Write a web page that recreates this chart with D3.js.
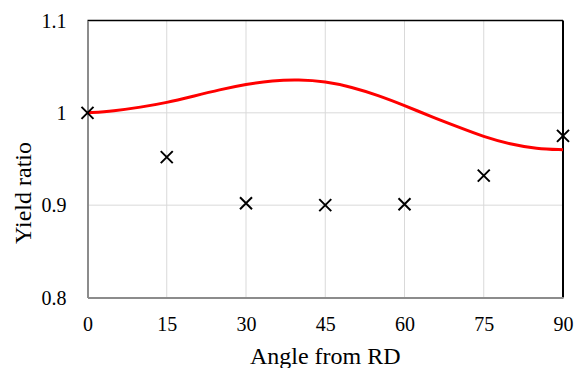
<!DOCTYPE html>
<html>
<head>
<meta charset="utf-8">
<script src="https://cdn.jsdelivr.net/npm/d3@7"></script>
<style>
  html, body { margin: 0; padding: 0; background: #fff; }
  svg { display: block; }
  svg text { fill: #000; }
</style>
</head>
<body>
<div id="chart"></div>
<script>
// Measured yield ratios (cross markers)
const measuredAngles = [0, 15, 30, 45, 60, 75, 90];
const measuredRatios = [1.000, 0.952, 0.902, 0.900, 0.901, 0.932, 0.975];

// Model prediction (red curve)
const modelAngles = [0, 5, 10, 15, 20, 25, 30, 35, 40, 45, 50, 55, 60, 65, 70, 75, 80, 85, 90];
const modelRatios = [1.000, 1.002, 1.006, 1.011, 1.018, 1.025, 1.031, 1.035, 1.036, 1.034,
                     1.028, 1.019, 1.008, 0.996, 0.985, 0.974, 0.966, 0.961, 0.960];

const xTicks = [0, 15, 30, 45, 60, 75, 90];
const yTicks = [0.8, 0.9, 1.0, 1.1];
const yTickLabels = ["0.8", "0.9", "1", "1.1"];

const W = 575, H = 368;
const margin = { left: 87.5, right: 12, top: 20.5, bottom: 70.5 };
const iw = W - margin.left - margin.right;
const ih = H - margin.top - margin.bottom;
const serif = "'Liberation Serif', 'Times New Roman', serif";

const svg = d3.select("#chart").append("svg")
  .attr("width", W).attr("height", H)
  .attr("font-family", serif);

const g = svg.append("g")
  .attr("transform", `translate(${margin.left},${margin.top})`);

const x = d3.scaleLinear().domain([0, 90]).range([0, iw]);
const y = d3.scaleLinear().domain([0.8, 1.1]).range([ih, 0]);

// Grid lines
g.append("g").selectAll("line").data(xTicks.slice(1, -1)).join("line")
  .attr("x1", d => x(d)).attr("x2", d => x(d))
  .attr("y1", 0).attr("y2", ih)
  .attr("stroke", "#d9d9d9").attr("stroke-width", 1);
g.append("g").selectAll("line").data(yTicks.slice(1, -1)).join("line")
  .attr("x1", 0).attr("x2", iw)
  .attr("y1", d => y(d)).attr("y2", d => y(d))
  .attr("stroke", "#d9d9d9").attr("stroke-width", 1);

// Frame: top and right in black, left and bottom axes in gray
g.append("line").attr("x1", 0).attr("x2", iw).attr("y1", 0).attr("y2", 0)
  .attr("stroke", "#000").attr("stroke-width", 1.5);
g.append("line").attr("x1", iw).attr("x2", iw).attr("y1", 0).attr("y2", ih)
  .attr("stroke", "#000").attr("stroke-width", 2);

// Axes (tick marks hidden, labels only)
const xAxis = d3.axisBottom(x).tickValues(xTicks).tickSize(0).tickPadding(0)
  .tickFormat(d3.format("d"));
const gx = g.append("g").attr("transform", `translate(0,${ih})`).call(xAxis)
  .attr("font-family", serif).attr("font-size", 20);
gx.select(".domain").attr("stroke", "#8c8c8c").attr("stroke-width", 2);
gx.selectAll("text").attr("dy", null).attr("y", 33.5);

const yAxis = d3.axisLeft(y).tickValues(yTicks).tickSize(0).tickPadding(0)
  .tickFormat((d, i) => yTickLabels[i]);
const gy = g.append("g").call(yAxis)
  .attr("font-family", serif).attr("font-size", 20);
gy.select(".domain").attr("stroke", "#8c8c8c").attr("stroke-width", 2);
gy.selectAll("text").attr("x", -21).attr("dy", "0.34em");

// Model curve
const line = d3.line()
  .x((d, i) => x(modelAngles[i]))
  .y(d => y(d))
  .curve(d3.curveBasis);
g.append("path").datum(modelRatios)
  .attr("d", line)
  .attr("fill", "none").attr("stroke", "#ff0000").attr("stroke-width", 3);

// Measured points as crosses
const s = 6;
g.append("g").selectAll("path")
  .data(measuredRatios).join("path")
  .attr("transform", (d, i) => `translate(${x(measuredAngles[i])},${y(d)})`)
  .attr("d", `M${-s},${-s}L${s},${s}M${-s},${s}L${s},${-s}`)
  .attr("stroke", "#000").attr("stroke-width", 2).attr("fill", "none");

// Axis titles
svg.append("text")
  .attr("x", margin.left + iw / 2).attr("y", 364)
  .attr("text-anchor", "middle").attr("font-size", 24)
  .text("Angle from RD");

svg.append("text")
  .attr("transform", `translate(31,193) rotate(-90)`)
  .attr("text-anchor", "middle").attr("font-size", 24)
  .text("Yield ratio");
</script>
</body>
</html>
